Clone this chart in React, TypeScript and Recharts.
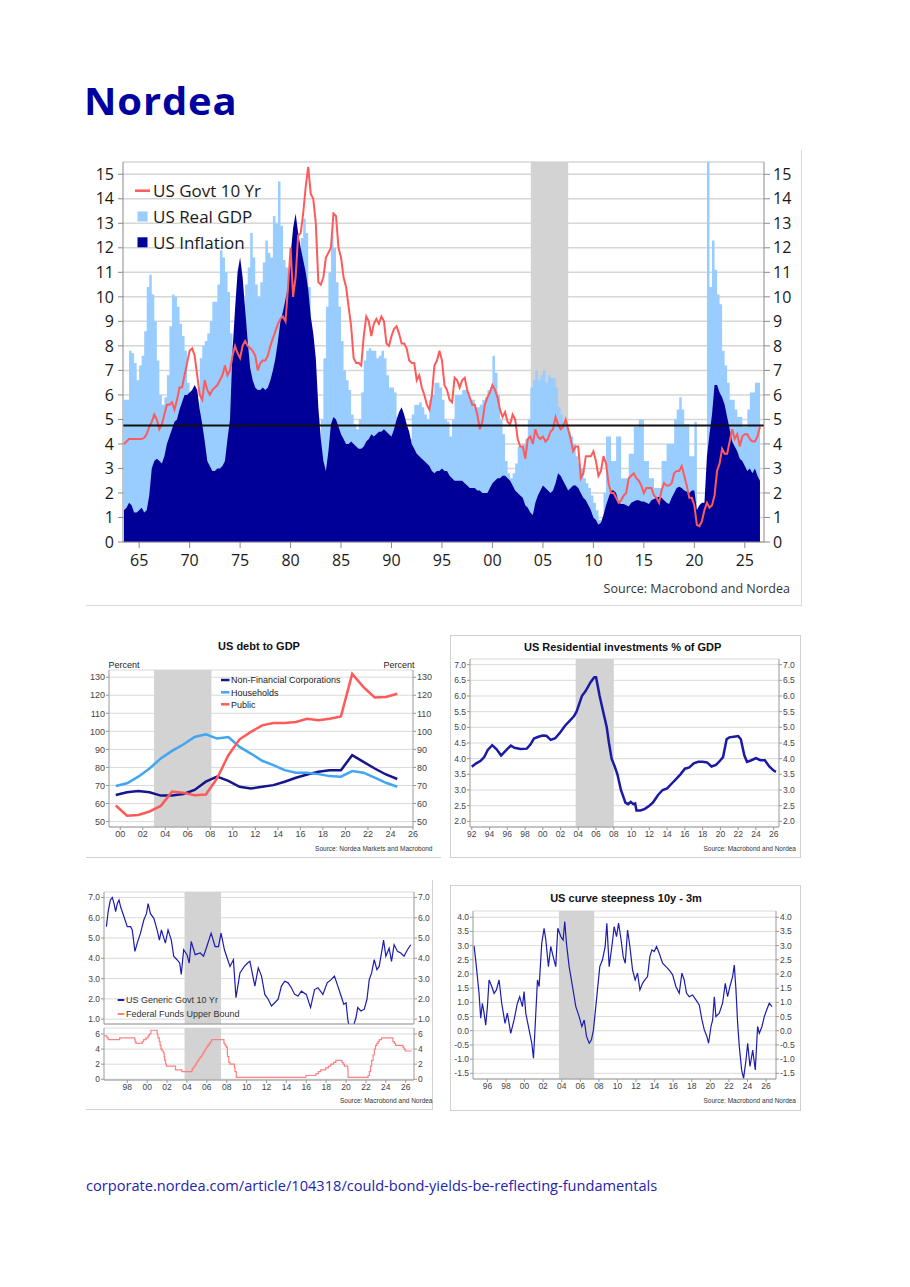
import React from "react";
import {
  ComposedChart,
  LineChart,
  Area,
  Line,
  XAxis,
  YAxis,
  CartesianGrid,
  ReferenceArea,
  ReferenceLine,
} from "recharts";

// ---------- big chart: quarterly values, first quarter = 1963 Q3 ----------
const BIG_START = 1963.5;
const usRealGdp = [
  [5.8, 5.8],
  [7.8, 7.7, 7.3, 6.6], [7.2, 7.6, 8.6, 10.4], [10.9, 10.1, 9.0, 7.4], [6.0, 5.6, 5.9, 6.8],
  [8.8, 10.1, 10.0, 9.6], [8.9, 8.4, 7.8, 6.5], [5.3, 5.0, 4.8, 4.5], [7.5, 8.0, 8.2, 8.5],
  [9.0, 9.8, 9.8, 10.5], [11.9, 11.6, 11.0, 10.2], [8.5, 8.0, 7.8, 7.6], [7.6, 8.4, 10.5, 11.2],
  [12.6, 11.6, 10.5, 10.0], [10.6, 11.4, 12.3, 11.8], [11.6, 13.3, 13.0, 14.7], [12.9, 11.5, 11.2, 10.6],
  [10.1, 8.3, 7.5, 9.0], [12.4, 13.2, 12.6, 10.4], [6.8, 5.6, 3.9, 3.0], [5.0, 7.5, 9.6, 11.0],
  [12.5, 12.0, 10.6, 9.6], [8.2, 7.0, 6.6, 6.2], [5.2, 4.8, 4.6, 5.0], [6.1, 7.4, 7.8, 7.9],
  [7.8, 7.8, 7.5, 7.6], [7.8, 7.5, 6.8, 6.3], [6.3, 6.1, 5.1, 4.2], [3.2, 3.3, 3.8, 4.2],
  [5.2, 5.6, 5.6, 5.7], [5.5, 5.2, 5.0, 5.8], [6.0, 6.5, 6.5, 6.3], [5.8, 5.0, 4.9, 4.3],
  [5.0, 6.0, 6.0, 6.0], [6.2, 6.2, 6.1, 5.8], [5.8, 5.5, 5.5, 5.6], [5.8, 5.9, 6.2, 6.3],
  [7.6, 6.9, 6.0, 5.0], [4.4, 3.3, 2.8, 2.6], [2.8, 3.2, 3.9, 3.9], [4.0, 4.2, 5.0, 6.3],
  [6.6, 7.0, 6.6, 6.8], [7.0, 6.5, 6.8, 6.7], [6.7, 6.3, 5.5, 5.2], [4.8, 4.8, 4.5, 4.3],
  [4.0, 3.5, 3.2, 3.0], [2.6, 2.4, 2.2, 1.9], [1.6, 1.3, 0.9, 0.6], [2.0, 4.3, 4.3, 3.3],
  [3.3, 4.3, 4.3, 2.6], [2.6, 2.6, 3.6, 3.6], [4.7, 4.7, 5.0, 5.0], [3.3, 3.3, 2.6, 2.6],
  [2.2, 2.2, 2.2, 3.3], [3.3, 4.0, 4.0, 4.0], [5.0, 5.4, 5.9, 5.4], [4.8, 4.8, 3.5, 3.5],
  [4.9, -1, -1, -1], [-1, 16, 10.4, 12.3], [11.1, 10.1, 9.7, 7.8], [7.2, 6.5, 5.8, 5.8],
  [5.4, 5.1, 5.1, 4.7], [4.7, 5.4, 6.1, 6.1],
  [6.5, 6.5, 6.5],
].flat();

const usInflation = [
  [1.3, 1.4],
  [1.6, 1.5, 1.2, 1.2], [1.3, 1.4, 1.2, 1.3], [1.9, 3.0, 3.3, 3.4], [3.3, 3.2, 3.5, 4.0],
  [4.3, 4.6, 4.9, 5.0], [5.4, 5.7, 6.0, 6.0], [6.1, 6.2, 6.4, 6.2], [5.4, 4.8, 4.1, 3.3],
  [3.1, 2.9, 2.9, 3.0], [3.0, 3.1, 3.3, 4.2], [5.0, 7.8, 9.5, 11.0], [11.6, 10.8, 9.5, 8.2],
  [7.1, 6.6, 6.3, 6.2], [6.2, 6.3, 6.2, 6.3], [6.6, 7.0, 7.5, 8.2], [9.0, 9.4, 9.9, 10.4],
  [11.7, 12.8, 13.4, 12.6], [12.0, 11.5, 11.0, 10.3], [9.2, 8.5, 7.5, 5.5], [4.2, 3.3, 2.9, 3.7],
  [4.8, 5.1, 5.0, 4.7], [4.4, 4.2, 4.0, 4.0], [4.1, 4.0, 3.9, 3.8], [3.8, 3.9, 4.1, 4.2],
  [4.4, 4.3, 4.4, 4.5], [4.5, 4.6, 4.5, 4.4], [4.3, 4.6, 5.0, 5.3], [5.5, 5.2, 4.8, 4.5],
  [4.0, 3.8, 3.6, 3.5], [3.4, 3.3, 3.2, 3.1], [2.9, 2.8, 2.9, 2.9], [3.0, 2.9, 2.9, 2.7],
  [2.6, 2.5, 2.5, 2.5], [2.5, 2.4, 2.3, 2.2], [2.2, 2.2, 2.1, 2.1], [2.0, 2.0, 2.0, 2.2],
  [2.4, 2.5, 2.6, 2.6], [2.7, 2.7, 2.6, 2.5], [2.3, 2.1, 2.0, 1.9], [1.8, 1.5, 1.4, 1.2],
  [1.1, 1.6, 1.9, 2.1], [2.3, 2.2, 2.1, 2.0], [2.1, 2.4, 2.8, 2.7], [2.5, 2.3, 2.1, 2.2],
  [2.3, 2.3, 2.2, 2.0], [1.8, 1.7, 1.5, 1.3], [1.0, 0.9, 0.7, 0.8], [1.1, 1.5, 1.8, 2.1],
  [2.1, 2.0, 1.6, 1.55], [1.55, 1.5, 1.45, 1.6], [1.65, 1.7, 1.7, 1.65], [1.65, 1.6, 1.55, 1.7],
  [1.75, 1.8, 1.85, 1.8], [1.7, 1.6, 1.55, 1.8], [2.0, 2.2, 2.25, 2.2], [2.1, 2.05, 2.0, 2.1],
  [2.1, 1.3, 1.5, 1.6], [1.6, 3.5, 4.4, 5.2], [6.4, 6.4, 6.1, 5.9], [5.6, 5.1, 4.6, 4.1],
  [3.9, 3.7, 3.4, 3.3], [3.1, 2.9, 3.0, 2.8],
  [3.0, 2.7, 2.5],
].flat();

const usGovt10 = [
  [4.0, 4.1],
  [4.2, 4.2, 4.2, 4.2], [4.2, 4.2, 4.25, 4.4], [4.7, 4.9, 5.2, 5.0], [4.6, 4.8, 5.2, 5.6],
  [5.6, 5.7, 5.4, 5.8], [6.3, 6.3, 6.8, 7.3], [7.8, 7.9, 7.6, 6.8], [6.0, 5.8, 6.6, 6.2],
  [6.0, 6.2, 6.3, 6.4], [6.6, 6.8, 7.2, 6.8], [7.0, 7.6, 8.0, 7.7], [7.5, 8.0, 8.2, 8.0],
  [7.9, 7.8, 7.6, 7.0], [7.3, 7.4, 7.4, 7.6], [8.0, 8.3, 8.6, 8.9], [9.1, 9.2, 9.0, 10.4],
  [12.0, 10.0, 10.8, 12.5], [12.6, 13.4, 14.5, 15.3], [14.2, 14.0, 13.0, 10.6], [10.5, 10.8, 11.6, 11.8],
  [12.0, 13.4, 13.3, 12.0], [11.6, 10.8, 10.4, 9.6], [8.8, 7.5, 7.3, 7.3], [7.2, 8.4, 9.2, 9.0],
  [8.4, 8.9, 9.1, 8.9], [9.2, 9.0, 8.1, 8.0], [8.4, 8.7, 8.8, 8.5], [8.1, 8.1, 7.9, 7.4],
  [7.3, 7.3, 6.6, 6.8], [6.3, 6.0, 5.6, 5.4], [6.0, 7.2, 7.4, 7.8], [7.4, 6.4, 6.2, 5.8],
  [5.7, 6.7, 6.6, 6.3], [6.6, 6.7, 6.2, 5.9], [5.6, 5.6, 5.2, 4.6], [4.9, 5.6, 5.9, 6.1],
  [6.4, 6.2, 5.9, 5.4], [5.1, 5.3, 4.9, 4.8], [5.2, 5.0, 4.2, 3.9], [3.9, 3.4, 4.2, 4.3],
  [4.0, 4.6, 4.3, 4.2], [4.3, 4.1, 4.2, 4.5], [4.6, 5.1, 4.8, 4.6], [4.7, 5.0, 4.6, 4.2],
  [3.7, 3.9, 3.9, 2.6], [2.8, 3.5, 3.5, 3.5], [3.7, 3.3, 2.7, 2.9], [3.5, 3.2, 2.4, 2.0],
  [2.0, 1.8, 1.6, 1.7], [1.9, 2.0, 2.6, 2.7], [2.8, 2.6, 2.5, 2.3], [2.0, 2.2, 2.2, 2.2],
  [1.9, 1.8, 1.6, 2.1], [2.4, 2.3, 2.3, 2.4], [2.8, 2.9, 2.9, 3.1], [2.7, 2.3, 1.8, 1.8],
  [1.5, 0.7, 0.65, 0.85], [1.3, 1.6, 1.4, 1.5], [1.9, 2.9, 3.2, 3.8], [3.6, 3.6, 4.1, 4.6],
  [4.2, 4.4, 3.9, 4.3], [4.4, 4.4, 4.2, 4.1],
  [4.1, 4.3, 4.7],
].flat();

const bigTicksX = [1965, 1970, 1975, 1980, 1985, 1990, 1995, 2000, 2005, 2010, 2015, 2020, 2025];
const bigTicksY = [0, 1, 2, 3, 4, 5, 6, 7, 8, 9, 10, 11, 12, 13, 14, 15];

// ---------- US debt to GDP (annual, plotted mid-year) ----------
const debtYears = [
  1999.6, 2000.6, 2001.6, 2002.6, 2003.6, 2004.6, 2005.6, 2006.6, 2007.6, 2008.6, 2009.6, 2010.6, 2011.6,
  2012.6, 2013.6, 2014.6, 2015.6, 2016.6, 2017.6, 2018.6, 2019.6, 2020.6, 2021.6, 2022.6, 2023.6, 2024.6,
];
const debtNonFin = [
  64.7, 66.2, 66.9, 66.2, 64.4, 64.4, 65.3, 67.5, 72.1, 74.9, 72.6, 69.3, 68.4,
  69.3, 70.2, 72.1, 74.3, 76.1, 77.6, 78.5, 78.5, 86.8, 83.1, 79.4, 76.1, 73.6,
];
const debtHouseholds = [
  69.7, 71.2, 74.9, 79.4, 85.0, 89.2, 92.7, 96.9, 98.4, 96.0, 96.9, 91.4, 87.7,
  83.7, 81.3, 78.5, 77.1, 77.1, 76.3, 75.2, 74.9, 78.0, 77.1, 74.3, 71.5, 69.3,
];
const debtPublic = [
  58.9, 53.3, 53.7, 55.6, 58.7, 66.6, 66.0, 64.6, 65.0, 74.0, 86.8, 95.6, 99.7,
  103.3, 104.6, 104.6, 105.2, 107.0, 106.1, 107.0, 108.3, 131.8, 124.5, 118.8, 119.0, 120.8,
];
const debtTicksX = [2000, 2002, 2004, 2006, 2008, 2010, 2012, 2014, 2016, 2018, 2020, 2022, 2024, 2026];
const debtTicksY = [50, 60, 70, 80, 90, 100, 110, 120, 130];

// ---------- US residential investment % of GDP ----------
const resYears = [
  1992.0, 1992.5, 1993.0, 1993.4, 1993.8, 1994.3, 1994.8, 1995.3, 1995.8, 1996.4, 1996.8, 1997.5, 1998.2,
  1998.6, 1999.0, 1999.5, 2000.0, 2000.4, 2000.9, 2001.4, 2002.0, 2002.5, 2003.0, 2003.5, 2003.8, 2004.4,
  2004.8, 2005.4, 2005.8, 2006.0, 2006.4, 2006.8, 2007.2, 2007.45, 2007.75, 2008.1, 2008.4, 2008.8, 2009.3,
  2009.6, 2009.9, 2010.2, 2010.4, 2010.55, 2011.0, 2011.5, 2012.0, 2012.4, 2013.0, 2013.5, 2014.0, 2014.5,
  2015.0, 2015.5, 2016.0, 2016.5, 2017.0, 2017.5, 2018.0, 2018.5, 2019.0, 2019.5, 2020.0, 2020.3, 2020.7,
  2021.0, 2021.5, 2022.0, 2022.3, 2022.7, 2023.0, 2023.5, 2024.0, 2024.5, 2025.0, 2025.5, 2026.0, 2026.25,
];
const resValues = [
  3.74, 3.85, 3.93, 4.05, 4.28, 4.43, 4.3, 4.1, 4.25, 4.42, 4.35, 4.31, 4.32,
  4.45, 4.64, 4.7, 4.74, 4.73, 4.6, 4.65, 4.85, 5.05, 5.2, 5.35, 5.5, 6.0,
  6.15, 6.45, 6.6, 6.6, 6.0, 5.5, 5.0, 4.5, 4.0, 3.75, 3.5, 3.0, 2.6,
  2.55, 2.62, 2.55, 2.57, 2.35, 2.35, 2.4, 2.5, 2.6, 2.85, 3.0, 3.05, 3.2,
  3.35, 3.5, 3.68, 3.72, 3.85, 3.9, 3.9, 3.88, 3.75, 3.8, 3.95, 4.05, 4.62,
  4.68, 4.7, 4.72, 4.62, 4.1, 3.9, 3.95, 4.02, 3.95, 3.95, 3.75, 3.62, 3.58,
];
const resTicksX = [1992, 1994, 1996, 1998, 2000, 2002, 2004, 2006, 2008, 2010, 2012, 2014, 2016, 2018, 2020, 2022, 2024, 2026];
const resTicksY = [2.0, 2.5, 3.0, 3.5, 4.0, 4.5, 5.0, 5.5, 6.0, 6.5, 7.0];

// ---------- US Generic Govt 10 Yr & Fed funds ----------
const g10Years = [
  1995.9, 1996.1, 1996.3, 1996.5, 1996.67, 1996.83, 1997.0, 1997.17, 1997.33, 1997.67,
  1998.0, 1998.33, 1998.5, 1998.77, 1999.0, 1999.33, 1999.67, 1999.93, 2000.1, 2000.33,
  2000.67, 2001.0, 2001.23, 2001.43, 2001.83, 2002.1, 2002.43, 2002.67, 2003.0, 2003.27,
  2003.43, 2003.67, 2004.0, 2004.23, 2004.43, 2004.83, 2005.33, 2005.67, 2006.0, 2006.43,
  2006.83, 2007.17, 2007.43, 2007.77, 2008.1, 2008.33, 2008.67, 2008.93, 2009.33, 2009.77,
  2010.1, 2010.33, 2010.83, 2011.17, 2011.5, 2011.83, 2012.17, 2012.5, 2012.83, 2013.17,
  2013.5, 2013.83, 2014.17, 2014.5, 2014.83, 2015.17, 2015.5, 2016.0, 2016.43, 2016.83,
  2017.17, 2017.67, 2018.1, 2018.5, 2018.83, 2019.17, 2019.5, 2019.77, 2020.0, 2020.17,
  2020.33, 2020.67, 2021.0, 2021.17, 2021.5, 2021.83, 2022.1, 2022.33, 2022.57, 2022.83,
  2023.1, 2023.33, 2023.67, 2023.77, 2024.0, 2024.33, 2024.57, 2024.83, 2025.17, 2025.5,
  2025.83, 2026.17, 2026.5,
];
const g10Values = [
  5.56, 6.38, 6.87, 7.0, 6.7, 6.3, 6.7, 6.87, 6.54, 6.05,
  5.56, 5.56, 5.4, 4.34, 4.75, 5.24, 5.9, 6.2, 6.7, 6.2,
  5.97, 5.4, 4.9, 5.4, 4.75, 5.4, 4.9, 4.1, 3.93, 3.77,
  3.2, 4.42, 4.18, 3.77, 4.83, 4.18, 4.26, 4.1, 4.58, 5.24,
  4.58, 4.58, 5.24, 4.42, 3.93, 3.6, 3.93, 2.06, 3.28, 3.6,
  3.77, 3.85, 2.63, 3.53, 3.12, 2.22, 1.98, 1.65, 1.81, 1.98,
  2.63, 2.87, 2.79, 2.55, 2.22, 2.14, 2.38, 2.22, 1.57, 2.46,
  2.55, 2.22, 2.79, 2.95, 3.12, 2.63, 2.14, 1.73, 1.81, 1.0,
  0.55, 0.55, 1.08, 1.57, 1.4, 1.49, 1.98, 2.95, 3.28, 3.93,
  3.44, 3.6, 4.58, 4.9, 4.1, 4.5, 3.85, 4.67, 4.34, 4.26,
  4.1, 4.42, 4.67,
];
const ffYears = [
  1995.66, 1995.96, 1996.08, 1997.23, 1998.75, 1998.79, 1998.87, 1999.5, 1999.64, 1999.88,
  2000.09, 2000.22, 2000.38, 2001.01, 2001.08, 2001.22, 2001.3, 2001.38, 2001.49, 2001.64,
  2001.71, 2001.76, 2001.85, 2001.94, 2002.85, 2003.48, 2004.5, 2004.6, 2004.72, 2004.86,
  2004.96, 2005.09, 2005.22, 2005.34, 2005.5, 2005.61, 2005.72, 2005.84, 2005.96, 2006.08,
  2006.24, 2006.36, 2006.49, 2007.72, 2007.83, 2007.95, 2008.06, 2008.08, 2008.21, 2008.33,
  2008.77, 2008.83, 2008.96, 2015.96, 2016.96, 2017.21, 2017.45, 2017.96, 2018.22, 2018.46,
  2018.74, 2018.97, 2019.58, 2019.71, 2019.83, 2020.17, 2020.2, 2022.21, 2022.34, 2022.46,
  2022.57, 2022.72, 2022.84, 2022.96, 2023.09, 2023.22, 2023.34, 2023.57, 2024.71, 2024.85,
  2024.97, 2025.71, 2025.83, 2025.95, 2026.6,
];
const ffValues = [
  5.75, 5.5, 5.25, 5.5, 5.25, 5.0, 4.75, 5.0, 5.25, 5.5,
  5.75, 6.0, 6.5, 6.0, 5.5, 5.0, 4.5, 4.0, 3.75, 3.5,
  3.0, 2.5, 2.0, 1.75, 1.25, 1.0, 1.25, 1.5, 1.75, 2.0,
  2.25, 2.5, 2.75, 3.0, 3.25, 3.5, 3.75, 4.0, 4.25, 4.5,
  4.75, 5.0, 5.25, 4.75, 4.5, 4.25, 3.5, 3.0, 2.25, 2.0,
  1.5, 1.0, 0.25, 0.5, 0.75, 1.0, 1.25, 1.5, 1.75, 2.0,
  2.25, 2.5, 2.25, 2.0, 1.75, 1.25, 0.25, 0.5, 1.0, 1.75,
  2.5, 3.25, 4.0, 4.5, 4.75, 5.0, 5.25, 5.5, 5.0, 4.75,
  4.5, 4.25, 4.0, 3.75, 3.75,
];
const yieldTicksX = [1998, 2000, 2002, 2004, 2006, 2008, 2010, 2012, 2014, 2016, 2018, 2020, 2022, 2024, 2026];
const yieldTicksY = [1, 2, 3, 4, 5, 6, 7];
const ffTicksY = [0, 2, 4, 6];

// ---------- US curve steepness 10y - 3m ----------
const cvYears = [
  1994.56, 1994.74, 1994.92, 1995.1, 1995.28, 1995.46, 1995.64, 1995.82, 1996.0, 1996.18,
  1996.47, 1996.72, 1996.97, 1997.26, 1997.54, 1997.9, 1998.15, 1998.51, 1998.87, 1999.23,
  1999.48, 1999.77, 1999.95, 2000.13, 2000.49, 2000.78, 2000.96, 2001.14, 2001.39, 2001.57,
  2001.85, 2002.1, 2002.29, 2002.57, 2002.82, 2003.08, 2003.36, 2003.58, 2003.9, 2004.15,
  2004.33, 2004.51, 2004.8, 2005.16, 2005.52, 2005.88, 2006.17, 2006.42, 2006.67, 2006.96,
  2007.2, 2007.42, 2007.67, 2007.85, 2008.1, 2008.39, 2008.68, 2008.86, 2009.11, 2009.4,
  2009.65, 2009.9, 2010.12, 2010.37, 2010.62, 2010.84, 2011.09, 2011.34, 2011.63, 2011.91,
  2012.16, 2012.42, 2012.7, 2012.95, 2013.24, 2013.49, 2013.71, 2013.96, 2014.21, 2014.5,
  2014.86, 2015.22, 2015.58, 2015.94, 2016.29, 2016.65, 2016.94, 2017.19, 2017.44, 2017.73,
  2018.09, 2018.45, 2018.81, 2019.1, 2019.35, 2019.63, 2019.81, 2020.07, 2020.25, 2020.43,
  2020.6, 2020.96, 2021.32, 2021.61, 2021.86, 2022.11, 2022.4, 2022.58, 2022.76, 2022.94,
  2023.12, 2023.37, 2023.58, 2023.84, 2024.02, 2024.27, 2024.56, 2024.84, 2025.09, 2025.27,
  2025.56, 2025.81, 2026.06, 2026.35, 2026.64,
];
const cvValues = [
  2.99, 2.5, 1.91, 1.32, 0.44, 0.97, 0.62, 0.2, 0.85, 1.79,
  1.56, 1.32, 1.44, 1.79, 0.97, 0.26, 0.62, -0.09, 0.38, 0.97,
  1.2, 0.85, 1.38, 0.62, 0.03, -0.44, -0.97, 0.15, 1.79, 1.56,
  3.08, 3.61, 3.2, 2.26, 2.97, 2.61, 2.26, 3.61, 3.32, 3.2,
  3.85, 3.08, 2.26, 1.56, 0.85, 0.5, 0.15, 0.38, -0.2, -0.44,
  -0.32, 0.03, 0.85, 1.44, 2.26, 2.5, 2.97, 3.79, 2.26, 2.97,
  3.67, 3.32, 3.79, 3.26, 2.61, 2.38, 3.55, 2.97, 2.14, 1.79,
  2.03, 1.44, 1.67, 1.79, 1.91, 2.61, 2.85, 2.79, 2.97, 2.73,
  2.38, 2.26, 2.14, 1.97, 1.56, 1.32, 2.03, 1.79, 1.32, 1.2,
  1.26, 1.09, 0.91, 0.38, 0.03, -0.2, -0.44, 0.15, 0.38, 1.2,
  0.5, 0.62, 0.97, 1.67, 1.2, 1.56, 1.91, 2.32, 1.44, 0.26,
  -0.56, -1.38, -1.68, -1.03, -0.44, -1.26, -0.68, -1.38, 0.15, -0.09,
  0.15, 0.5, 0.73, 0.97, 0.85,
];
const cvTicksX = [1996, 1998, 2000, 2002, 2004, 2006, 2008, 2010, 2012, 2014, 2016, 2018, 2020, 2022, 2024, 2026];
const cvTicksY = [-1.5, -1.0, -0.5, 0.0, 0.5, 1.0, 1.5, 2.0, 2.5, 3.0, 3.5, 4.0];

// ---------- tables for recharts ----------
const bigData = usRealGdp.map((g, i) => ({
  t: BIG_START + i * 0.25,
  gdp: g,
  cpi: usInflation[i],
  y10: usGovt10[i],
}));
const debtData = debtYears.map((t, i) => ({ t, nfc: debtNonFin[i], hh: debtHouseholds[i], pub: debtPublic[i] }));
const resData = resYears.map((t, i) => ({ t, v: resValues[i] }));
const g10Data = g10Years.map((t, i) => ({ t, v: g10Values[i] }));
const ffData = ffYears.map((t, i) => ({ t, v: ffValues[i] }));
const cvData = cvYears.map((t, i) => ({ t, v: cvValues[i] }));

const SANS = '"Open Sans", "Noto Sans", sans-serif';
const NARROW = '"Liberation Sans Narrow", "Liberation Sans", Arial, sans-serif';
const NAVY = "#000099";
const LIGHT = "#99CCFF";
const RED = "#FF5A5A";
const BAND = "#D3D3D3";

const yy = (v: number) => String(Math.round(v) % 100).padStart(2, "0");
const f1 = (v: number) => v.toFixed(1);

const bigTick = { fontSize: 16, fill: "#1a1a1a", fontFamily: SANS };
const smallTick = { fontSize: 8.5, fill: "#444", fontFamily: NARROW };

function BigChart() {
  return (
    <div style={{ position: "absolute", left: 80, top: 150 }}>
      <ComposedChart width={730} height={430} data={bigData} margin={{ top: 12, right: 6, bottom: 8, left: 0 }}>
        <ReferenceArea x1={2003.8} x2={2007.5} fill={BAND} fillOpacity={1} stroke="none" ifOverflow="hidden" />
        <CartesianGrid vertical={false} stroke="#D6D6D6" strokeWidth={1.5} />
        <XAxis
          type="number"
          dataKey="t"
          domain={[1963.4, 2026.9]}
          allowDataOverflow
          ticks={bigTicksX}
          interval={0}
          tickFormatter={yy}
          tick={bigTick}
          tickSize={6}
          tickMargin={7}
          height={30}
          stroke="#8a8a8a"
        />
        <YAxis
          domain={[0, 15.5]}
          allowDataOverflow
          ticks={bigTicksY}
          interval={0}
          width={43}
          tickSize={5}
          tickMargin={4}
          tick={bigTick}
          stroke="#8a8a8a"
        />
        <YAxis
          yAxisId="r"
          orientation="right"
          domain={[0, 15.5]}
          allowDataOverflow
          ticks={bigTicksY}
          interval={0}
          width={40}
          tickSize={6}
          tickMargin={3}
          tick={bigTick}
          stroke="#8a8a8a"
        />
        <Area dataKey="gdp" type="stepAfter" fill={LIGHT} fillOpacity={1} stroke="none" isAnimationActive={false} />
        <Area dataKey="cpi" type="linear" fill={NAVY} fillOpacity={1} stroke="none" isAnimationActive={false} />
        <Line dataKey="y10" type="linear" stroke={RED} strokeWidth={2} dot={false} isAnimationActive={false} />
        <ReferenceLine y={4.75} stroke="#111" strokeWidth={2} />
      </ComposedChart>
    </div>
  );
}

function DebtChart() {
  return (
    <div style={{ position: "absolute", left: 80, top: 660 }}>
      <LineChart width={360} height={190} data={debtData} margin={{ top: 10, right: 2, bottom: 3, left: 0 }}>
        <ReferenceArea x1={2003} x2={2008.1} fill={BAND} fillOpacity={1} stroke="none" ifOverflow="hidden" />
        <CartesianGrid vertical={false} stroke="#DADADA" />
        <XAxis
          type="number"
          dataKey="t"
          domain={[1999, 2026]}
          allowDataOverflow
          ticks={debtTicksX}
          interval={0}
          tickFormatter={yy}
          tick={{ ...smallTick, fontSize: 9 }}
          tickSize={3}
          tickMargin={1}
          height={20}
          stroke="#999"
        />
        <YAxis domain={[47, 134]} allowDataOverflow ticks={debtTicksY} interval={0} width={29} tickSize={3} tickMargin={1} tick={{ ...smallTick, fontSize: 9 }} stroke="#999" />
        <YAxis yAxisId="r" orientation="right" domain={[47, 134]} allowDataOverflow ticks={debtTicksY} interval={0} width={25} tickSize={3} tickMargin={1} tick={{ ...smallTick, fontSize: 9 }} stroke="#999" />
        <Line dataKey="nfc" stroke="#16168C" strokeWidth={2.5} dot={false} isAnimationActive={false} />
        <Line dataKey="hh" stroke="#40A6F2" strokeWidth={2.5} dot={false} isAnimationActive={false} />
        <Line dataKey="pub" stroke={RED} strokeWidth={2.5} dot={false} isAnimationActive={false} />
      </LineChart>
    </div>
  );
}

function ResidentialChart() {
  return (
    <div style={{ position: "absolute", left: 440, top: 650 }}>
      <LineChart width={370} height={200} data={resData} margin={{ top: 9, right: 6, bottom: 3, left: 0 }}>
        <ReferenceArea x1={2003.7} x2={2008.0} fill={BAND} fillOpacity={1} stroke="none" ifOverflow="hidden" />
        <CartesianGrid vertical={false} stroke="#DADADA" />
        <XAxis
          type="number"
          dataKey="t"
          domain={[1991.8, 2026.6]}
          allowDataOverflow
          ticks={resTicksX}
          interval={0}
          tickFormatter={yy}
          tick={smallTick}
          tickSize={3}
          tickMargin={1}
          height={20}
          stroke="#999"
        />
        <YAxis domain={[1.82, 7.18]} allowDataOverflow ticks={resTicksY} interval={0} tickFormatter={f1} width={30} tickSize={3} tickMargin={1} tick={smallTick} stroke="#999" />
        <YAxis yAxisId="r" orientation="right" domain={[1.82, 7.18]} allowDataOverflow ticks={resTicksY} interval={0} tickFormatter={f1} width={25} tickSize={3} tickMargin={1} tick={smallTick} stroke="#999" />
        <Line dataKey="v" stroke="#1A1AA6" strokeWidth={2.5} dot={false} isAnimationActive={false} />
      </LineChart>
    </div>
  );
}

function YieldChart() {
  return (
    <>
      <div style={{ position: "absolute", left: 74, top: 885 }}>
        <LineChart width={370} height={140} data={g10Data} margin={{ top: 7, right: 8, bottom: 0, left: 0 }}>
          <ReferenceArea x1={2003.76} x2={2007.43} fill={BAND} fillOpacity={1} stroke="none" ifOverflow="hidden" />
          <CartesianGrid vertical={false} stroke="#DADADA" />
          <XAxis type="number" dataKey="t" domain={[1995.66, 2026.83]} allowDataOverflow ticks={yieldTicksX} interval={0} tick={false} tickSize={0} height={1} stroke="#999" />
          <YAxis domain={[0.76, 7.27]} allowDataOverflow ticks={yieldTicksY} interval={0} tickFormatter={f1} width={30} tickSize={3} tickMargin={1} tick={smallTick} stroke="#999" />
          <YAxis yAxisId="r" orientation="right" domain={[0.76, 7.27]} allowDataOverflow ticks={yieldTicksY} interval={0} tickFormatter={f1} width={22} tickSize={3} tickMargin={1} tick={smallTick} stroke="#999" />
          <Line dataKey="v" stroke="#1C1CB0" strokeWidth={1.2} dot={false} isAnimationActive={false} />
        </LineChart>
      </div>
      <div style={{ position: "absolute", left: 74, top: 1022 }}>
        <LineChart width={370} height={83} data={ffData} margin={{ top: 6, right: 8, bottom: 5, left: 0 }}>
          <ReferenceArea x1={2003.76} x2={2007.43} fill={BAND} fillOpacity={1} stroke="none" ifOverflow="hidden" />
          <CartesianGrid vertical={false} stroke="#DADADA" />
          <XAxis
            type="number"
            dataKey="t"
            domain={[1995.66, 2026.83]}
            allowDataOverflow
            ticks={yieldTicksX}
            interval={0}
            tickFormatter={yy}
            tick={smallTick}
            tickSize={3}
            tickMargin={1}
            height={20}
            stroke="#999"
          />
          <YAxis domain={[-0.1, 6.8]} allowDataOverflow ticks={ffTicksY} interval={0} width={30} tickSize={3} tickMargin={1} tick={smallTick} stroke="#999" />
          <YAxis yAxisId="r" orientation="right" domain={[-0.1, 6.8]} allowDataOverflow ticks={ffTicksY} interval={0} width={22} tickSize={3} tickMargin={1} tick={smallTick} stroke="#999" />
          <Line dataKey="v" type="stepAfter" stroke="#FF8080" strokeWidth={1.2} dot={false} isAnimationActive={false} />
        </LineChart>
      </div>
    </>
  );
}

function CurveChart() {
  return (
    <div style={{ position: "absolute", left: 443, top: 905 }}>
      <LineChart width={370} height={197} data={cvData} margin={{ top: 6, right: 7, bottom: 3, left: 0 }}>
        <ReferenceArea x1={2003.7} x2={2007.5} fill={BAND} fillOpacity={1} stroke="none" ifOverflow="hidden" />
        <CartesianGrid vertical={false} stroke="#DADADA" />
        <XAxis
          type="number"
          dataKey="t"
          domain={[1994.45, 2027.07]}
          allowDataOverflow
          ticks={cvTicksX}
          interval={0}
          tickFormatter={yy}
          tick={smallTick}
          tickSize={3}
          tickMargin={1}
          height={20}
          stroke="#999"
        />
        <YAxis domain={[-1.7, 4.22]} allowDataOverflow ticks={cvTicksY} interval={0} tickFormatter={f1} width={30} tickSize={3} tickMargin={1} tick={smallTick} stroke="#999" />
        <YAxis yAxisId="r" orientation="right" domain={[-1.7, 4.22]} allowDataOverflow ticks={cvTicksY} interval={0} tickFormatter={f1} width={30} tickSize={3} tickMargin={1} tick={smallTick} stroke="#999" />
        <Line dataKey="v" stroke="#1C1CB0" strokeWidth={1.2} dot={false} isAnimationActive={false} />
      </LineChart>
    </div>
  );
}

function Texts() {
  const t9 = { fontFamily: NARROW, fontSize: 9, fill: "#222" };
  const src = { fontFamily: NARROW, fontSize: 6.5, fill: "#333", textAnchor: "end" as const };
  const title = { fontFamily: NARROW, fontSize: 11, fontWeight: 700, fill: "#111", textAnchor: "middle" as const };
  return (
    <svg width={910} height={1287} style={{ position: "absolute", left: 0, top: 0, pointerEvents: "none" }}>
      <text
        x={0}
        y={0}
        transform="translate(84 114.5) scale(1.08 1)"
        fontFamily={SANS}
        fontSize={37}
        fontWeight={700}
        fill="#0000A0"
        letterSpacing={0.8}
      >
        Nordea
      </text>

      {/* big chart legend */}
      <line x1={135} x2={150} y1={190.7} y2={190.7} stroke={RED} strokeWidth={2.5} />
      <text x={153} y={197} fontFamily={SANS} fontSize={17} fill="#1a1a1a">US Govt 10 Yr</text>
      <rect x={137.5} y={211.5} width={10} height={10} fill={LIGHT} />
      <text x={153} y={223} fontFamily={SANS} fontSize={17} fill="#1a1a1a">US Real GDP</text>
      <rect x={137.5} y={237.3} width={10} height={10} fill={NAVY} />
      <text x={153} y={248.5} fontFamily={SANS} fontSize={17} fill="#1a1a1a">US Inflation</text>
      <text x={790} y={592.5} fontFamily={SANS} fontSize={12.5} fill="#333" textAnchor="end">
        Source: Macrobond and Nordea
      </text>

      {/* debt to GDP */}
      <text x={259} y={650} {...title}>US debt to GDP</text>
      <text x={108.5} y={667.5} {...t9}>Percent</text>
      <text x={414.5} y={667.5} {...t9} textAnchor="end">Percent</text>
      <line x1={221} x2={229.5} y1={680} y2={680} stroke="#16168C" strokeWidth={2.5} />
      <text x={231} y={683.3} {...t9}>Non-Financial Corporations</text>
      <line x1={221} x2={229.5} y1={692.3} y2={692.3} stroke="#40A6F2" strokeWidth={2.5} />
      <text x={231} y={695.6} {...t9}>Households</text>
      <line x1={221} x2={229.5} y1={704.3} y2={704.3} stroke={RED} strokeWidth={2.5} />
      <text x={231} y={707.6} {...t9}>Public</text>
      <text x={432.5} y={851} {...src}>Source: Nordea Markets and Macrobond</text>

      {/* residential */}
      <text x={622.7} y={650.7} {...title}>US Residential investments % of GDP</text>
      <text x={796} y={851} {...src}>Source: Macrobond and Nordea</text>

      {/* 10y & fed funds */}
      <line x1={117.7} x2={124.3} y1={1000} y2={1000} stroke="#1C1CB0" strokeWidth={2} />
      <text x={126} y={1003.3} {...t9} fill="#333">US Generic Govt 10 Yr</text>
      <line x1={117.7} x2={124.3} y1={1014} y2={1014} stroke="#FF8080" strokeWidth={2} />
      <text x={126} y={1017.3} {...t9} fill="#333">Federal Funds Upper Bound</text>
      <text x={432.5} y={1102.5} {...src}>Source: Macrobond and Nordea</text>

      {/* curve */}
      <text x={626} y={902} {...title}>US curve steepness 10y  - 3m</text>
      <text x={796} y={1102.5} {...src}>Source: Macrobond and Nordea</text>

      <text x={86} y={1191} fontFamily={SANS} fontSize={14.6} fill="#2323B0">
        corporate.nordea.com/article/104318/could-bond-yields-be-reflecting-fundamentals
      </text>
    </svg>
  );
}

export default function App() {
  const frame = "1px solid #D0D0D0";
  return (
    <div style={{ position: "absolute", left: 0, top: 0, width: 910, height: 1287, background: "#fff", overflow: "hidden" }}>
      <div style={{ position: "absolute", left: 86, top: 150, width: 715, height: 455, borderRight: "1.5px solid #DADADA", borderBottom: "1.5px solid #DADADA" }} />
      <div style={{ position: "absolute", left: 86, top: 857, width: 355, height: 0, borderTop: frame }} />
      <div style={{ position: "absolute", left: 450, top: 635, width: 349, height: 221, border: frame }} />
      <div style={{ position: "absolute", left: 86, top: 880, width: 346, height: 229, borderRight: frame, borderBottom: frame }} />
      <div style={{ position: "absolute", left: 450, top: 885, width: 349, height: 224, border: frame }} />
      <BigChart />
      <DebtChart />
      <ResidentialChart />
      <YieldChart />
      <CurveChart />
      <Texts />
    </div>
  );
}
